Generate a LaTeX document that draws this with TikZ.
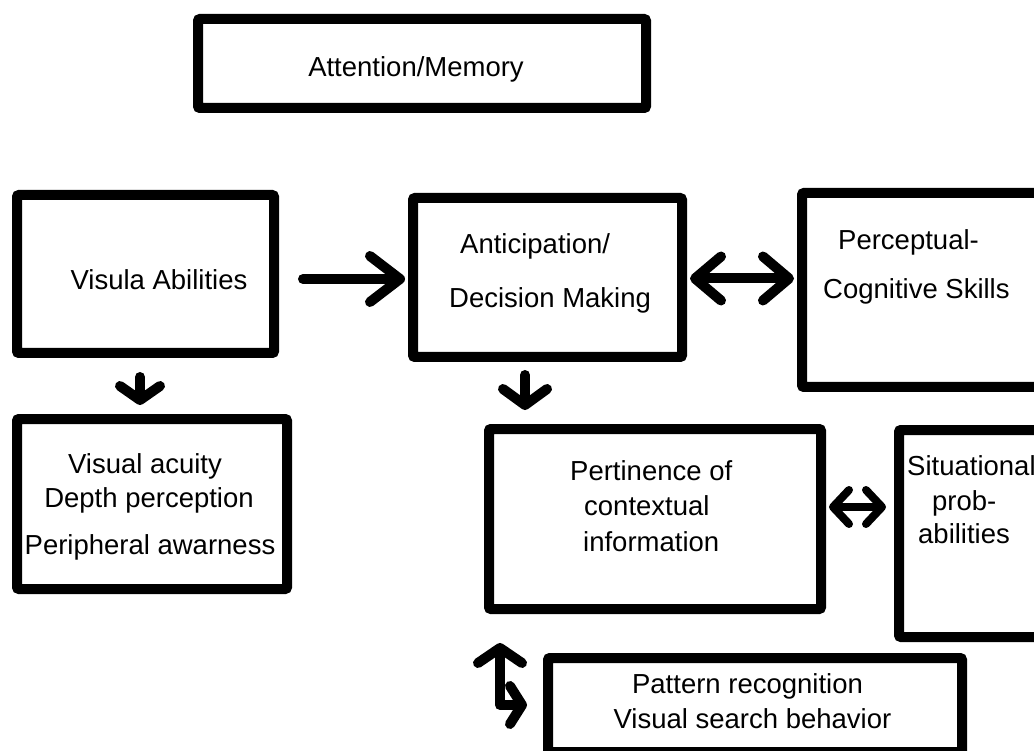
\documentclass[tikz,border=0pt]{standalone}
\usepackage{fontspec}
\setmainfont{Liberation Sans}
\usetikzlibrary{arrows.meta}

\begin{document}
\begin{tikzpicture}[x=1pt,y=-1pt,
  box/.style={draw,line width=10pt,rounded corners=2pt,inner sep=0pt,outer sep=5pt},
  txt/.style={inner sep=0pt,font=\fontsize{27.5}{33}\selectfont},
  arr/.style={line width=10pt,line cap=round,line join=round}]
\clip (0,0) rectangle (1034,751);
\fill[white] (0,0) rectangle (1034,751);
\node[box,minimum width=448pt,minimum height=89pt] (attn) at (422,63.5) {};
\node[box,minimum width=257pt,minimum height=158pt] (vis) at (145.5,274) {};
\node[box,minimum width=269pt,minimum height=159pt] (ant) at (547.5,277.5) {};
\node[box,minimum width=238pt,minimum height=194pt] (perc) at (921,290) {};
\node[box,minimum width=270pt,minimum height=170pt] (acu) at (152,504) {};
\node[box,minimum width=332pt,minimum height=180pt] (pert) at (655,519) {};
\node[box,minimum width=141pt,minimum height=207pt] (sit) at (969.5,533.5) {};
\node[box,minimum width=414pt,minimum height=94pt] (pat) at (755,705) {};
\node[txt,anchor=base] (t-attn) at (416,77) {Attention/Memory};
\node[txt,anchor=base] (t-vis) at (159,290) {Visula Abilities};
\node[txt,anchor=base west] (t-ant1) at (460,254) {Anticipation/};
\node[txt,anchor=base west] (t-ant2) at (449,308) {Decision Making};
\node[txt,anchor=base west] (t-perc1) at (838,250) {Perceptual-};
\node[txt,anchor=base west] (t-perc2) at (823,299) {Cognitive Skills};
\node[txt,anchor=base] (t-acu1) at (145,473) {Visual acuity};
\node[txt,anchor=base] (t-acu2) at (149,507) {Depth perception};
\node[txt,anchor=base] (t-acu3) at (150,554) {Peripheral awarness};
\node[txt,anchor=base west] (t-pert1) at (570,480) {Pertinence of};
\node[txt,anchor=base west] (t-pert2) at (584,515) {contextual};
\node[txt,anchor=base west] (t-pert3) at (583,551) {information};
\node[txt,anchor=base west] (t-sit1) at (907,475) {Situational};
\node[txt,anchor=base west] (t-sit2) at (932,510) {prob-};
\node[txt,anchor=base west] (t-sit3) at (918,543) {abilities};
\node[txt,anchor=base] (t-pat1) at (747.5,693) {Pattern recognition};
\node[txt,anchor=base] (t-pat2) at (752.5,728) {Visual search behavior};
\draw[arr,-{Straight Barb[round,length=30pt,width=46pt]},shorten <=24pt,shorten >=3pt]([yshift=-5pt]vis.east)--([yshift=-5pt]vis.east -| ant.west);
\draw[arr,{Straight Barb[round,length=26pt,width=44pt]}-{Straight Barb[round,length=26pt,width=44pt]},shorten <=3pt,shorten >=3pt]([yshift=-1pt]ant.east)--([yshift=-1pt]ant.east -| perc.west);
\draw[arr,-{Straight Barb[round,length=14pt,width=40pt]},shorten <=19pt,shorten >=9pt]([xshift=-5.5pt]vis.south)--([xshift=-5.5pt]vis.south |- acu.north);
\draw[arr,-{Straight Barb[round,length=16pt,width=44pt]},shorten <=13pt,shorten >=14pt]([xshift=-22.5pt]ant.south)--([xshift=-22.5pt]ant.south |- pert.north);
\draw[arr,line width=8pt,{Straight Barb[round,length=16pt,width=34pt]}-{Straight Barb[round,length=16pt,width=34pt]},shorten <=3pt,shorten >=8pt]([yshift=12pt]pert.east)--([yshift=12pt]pert.east -| sit.west);
\draw[arr,{Straight Barb[round,length=15pt,width=44pt]}-{Straight Barb[round,length=12pt,width=38pt]},shorten <=29pt,shorten >=16pt]([xshift=16pt]pert.south west)|-(pat.west);
\end{tikzpicture}
\end{document}
